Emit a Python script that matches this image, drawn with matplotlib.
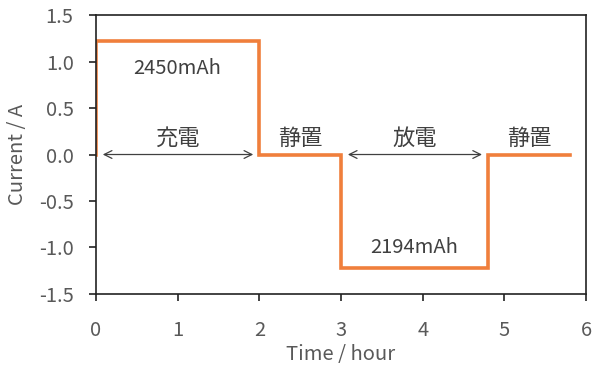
import numpy as np
import matplotlib
matplotlib.use('Agg')
import matplotlib.pyplot as plt

plt.rcParams['font.family'] = ['Noto Sans CJK JP', 'DejaVu Sans']

# charge / rest / discharge / rest profile
time_h = [0, 0, 2, 2, 3, 3, 4.8, 4.8, 5.8]
current_a = [0, 1.225, 1.225, 0, 0, -1.22, -1.22, 0, 0]
phase_labels = ['充電', '静置', '放電', '静置']
phase_x = [1.0, 2.5, 3.9, 5.3]
capacity_labels = ['2450mAh', '2194mAh']
capacity_x = [1.0, 3.9]
capacity_y = [0.92, -1.0]

ORANGE = '#F07F3C'; INK = '#404040'; TXT = '#595959'

fig = plt.figure(figsize=(5.92, 3.67), dpi=100)
ax = fig.add_axes([0.162, 0.199, 0.828, 0.760])
ax.plot(time_h, current_a, color=ORANGE, lw=2.6, solid_joinstyle='miter')

ax.set_xlim(0, 6)
ax.set_ylim(-1.5, 1.5)
ax.set_xticks(np.arange(0, 7, 1))
ax.set_yticks(np.arange(-1.5, 1.6, 0.5))
ax.set_yticklabels([f'{v:.1f}' for v in np.arange(-1.5, 1.6, 0.5)])
ax.tick_params(labelcolor=TXT, color='#222', labelsize=14.5, length=5, width=1.2, direction='out')
ax.tick_params(axis='y', pad=11)
ax.tick_params(axis='x', pad=14)
for s in ax.spines.values():
    s.set_color('#222'); s.set_linewidth(1.2)
ax.set_xlabel('Time / hour', color=TXT, fontsize=14.5, labelpad=2)
ax.set_ylabel('Current / A', color=TXT, fontsize=14.5, labelpad=8)

# phase spans with double arrows
arrow_kw = dict(arrowstyle='<->', color=INK, lw=0.9, mutation_scale=14)
ax.annotate('', xy=(0.05, 0), xytext=(1.96, 0), arrowprops=arrow_kw)
ax.annotate('', xy=(3.05, 0), xytext=(4.76, 0), arrowprops=arrow_kw)
for x, lab in zip(phase_x, phase_labels):
    ax.text(x, 0.05, lab, ha='center', va='bottom', fontsize=16, color=INK)
for x, y, lab in zip(capacity_x, capacity_y, capacity_labels):
    ax.text(x, y, lab, ha='center', va='center', fontsize=14.5, color=INK)

fig.savefig('out.png', dpi=100)
